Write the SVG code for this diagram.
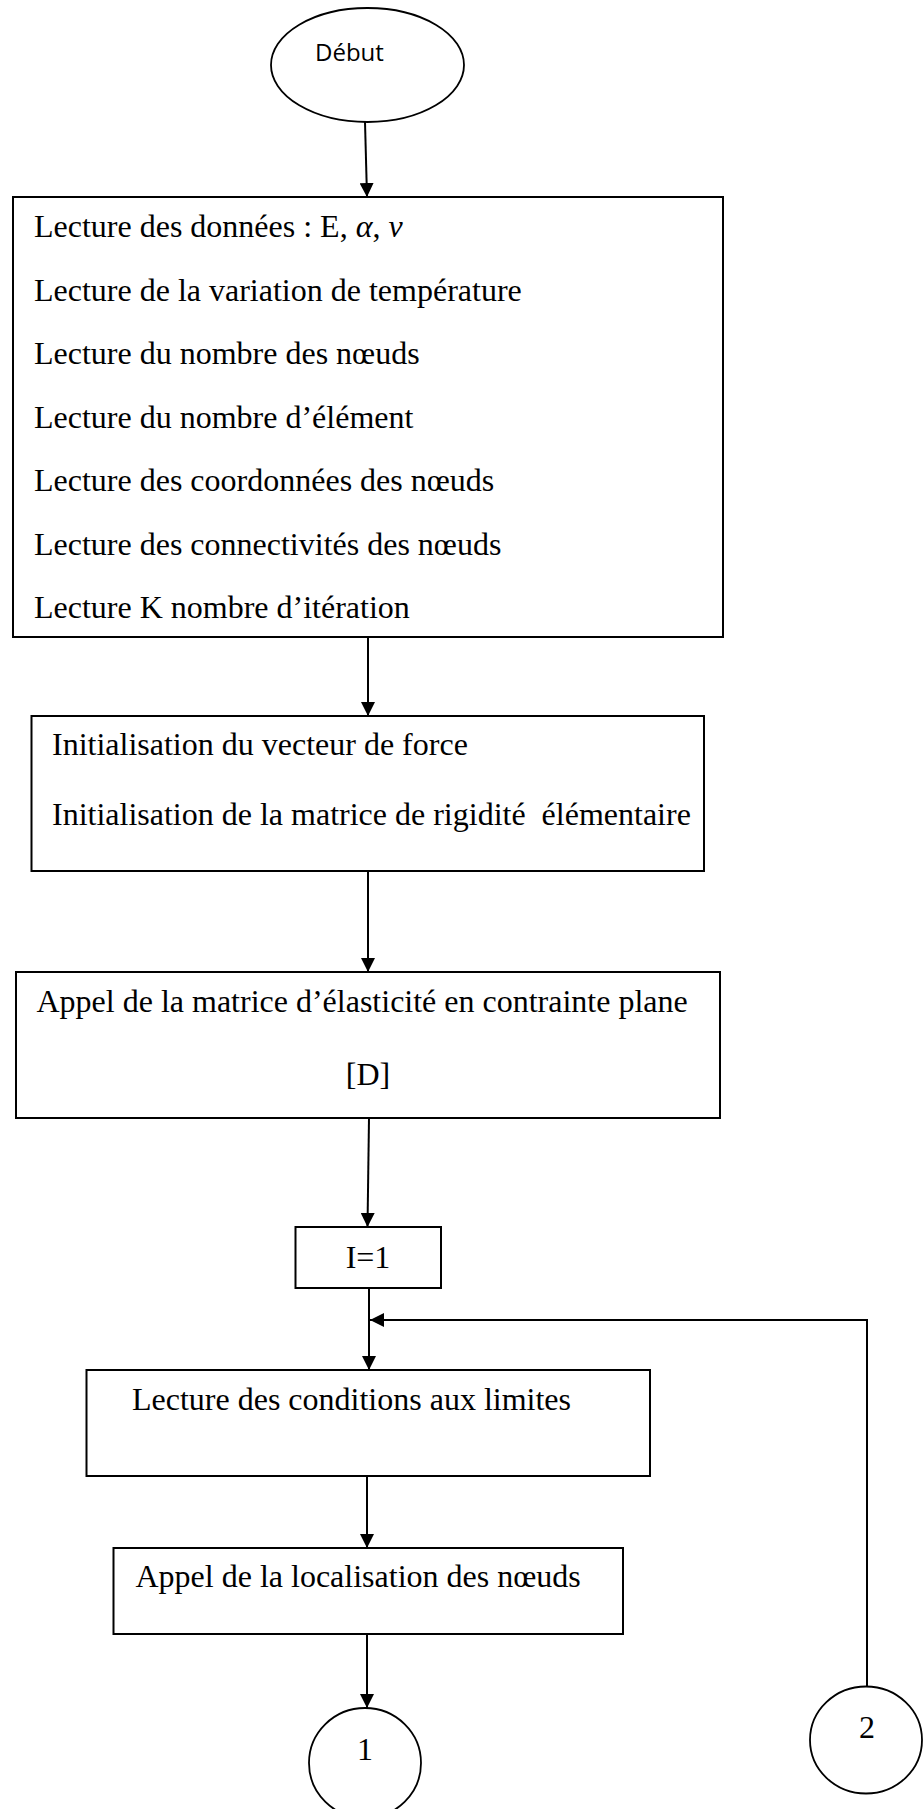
<svg xmlns="http://www.w3.org/2000/svg" width="924" height="1809" viewBox="0 0 924 1809">
<style>
.box{fill:#fff;stroke:#000;stroke-width:2}
.term{fill:#fff;stroke:#000;stroke-width:1.8}
.t{font-family:"Liberation Serif","Times New Roman",serif;font-size:32px;fill:#000}
.s{font-family:"Open Sans","Liberation Sans",sans-serif;font-size:24px;fill:#000}
.c{fill:none;stroke:#000;stroke-width:2}
</style>
<defs>
<marker id="ah" markerUnits="userSpaceOnUse" markerWidth="14" markerHeight="14" refX="14" refY="7" orient="auto">
<path d="M0,0 L14,7 L0,14 z" fill="#000"/>
</marker>
</defs>
<rect width="924" height="1809" fill="#fff"/>
<g id="connectors">
<line class="c" x1="365" y1="122" x2="367" y2="197" marker-end="url(#ah)"/>
<line class="c" x1="368" y1="637" x2="368" y2="716" marker-end="url(#ah)"/>
<line class="c" x1="368" y1="871" x2="368" y2="972" marker-end="url(#ah)"/>
<line class="c" x1="369" y1="1118" x2="367.5" y2="1227" marker-end="url(#ah)"/>
<line class="c" x1="369" y1="1288" x2="369" y2="1370" marker-end="url(#ah)"/>
<line class="c" x1="367" y1="1476" x2="367" y2="1548" marker-end="url(#ah)"/>
<line class="c" x1="367" y1="1634" x2="367" y2="1708" marker-end="url(#ah)"/>
<polyline class="c" points="867,1686 867,1320 370,1320" marker-end="url(#ah)"/>
</g>
<g id="debut">
<ellipse class="term" cx="367.5" cy="65" rx="96.5" ry="57"/>
<text class="s" x="315" y="61">Début</text>
</g>
<g id="lecture-donnees">
<rect class="box" x="13" y="197" width="710" height="440"/>
<text class="t" x="34" y="237">Lecture des données : E, <tspan font-style="italic">α</tspan>, <tspan font-style="italic">ν</tspan></text>
<text class="t" x="34" y="300.5">Lecture de la variation de température</text>
<text class="t" x="34" y="364">Lecture du nombre des nœuds</text>
<text class="t" x="34" y="427.5">Lecture du nombre d’élément</text>
<text class="t" x="34" y="491">Lecture des coordonnées des nœuds</text>
<text class="t" x="34" y="554.5">Lecture des connectivités des nœuds</text>
<text class="t" x="34" y="618">Lecture K nombre d’itération</text>
</g>
<g id="initialisation">
<rect class="box" x="31.5" y="716" width="672.5" height="155"/>
<text class="t" x="52" y="755">Initialisation du vecteur de force</text>
<text class="t" x="52" y="825" xml:space="preserve" style="white-space:pre">Initialisation de la matrice de rigidité  élémentaire</text>
</g>
<g id="appel-matrice">
<rect class="box" x="16" y="972" width="704" height="146"/>
<text class="t" x="36.5" y="1012">Appel de la matrice d’élasticité en contrainte plane</text>
<text class="t" x="368" y="1085" text-anchor="middle">[D]</text>
</g>
<g id="i-egal-1">
<rect class="box" x="295.5" y="1227" width="145.5" height="61"/>
<text class="t" x="368" y="1268" text-anchor="middle">I=1</text>
</g>
<g id="conditions-limites">
<rect class="box" x="86.5" y="1370" width="563.5" height="106"/>
<text class="t" x="132" y="1410">Lecture des conditions aux limites</text>
</g>
<g id="localisation">
<rect class="box" x="113.5" y="1548" width="509.5" height="86"/>
<text class="t" x="135.5" y="1587">Appel de la localisation des nœuds</text>
</g>
<g id="connecteur-1">
<ellipse class="term" cx="365" cy="1763" rx="56" ry="55"/>
<text class="t" x="365" y="1760" text-anchor="middle" font-size="30">1</text>
</g>
<g id="connecteur-2">
<ellipse class="term" cx="866" cy="1740" rx="56" ry="53.5"/>
<text class="t" x="867" y="1738" text-anchor="middle" font-size="30">2</text>
</g>
</svg>
